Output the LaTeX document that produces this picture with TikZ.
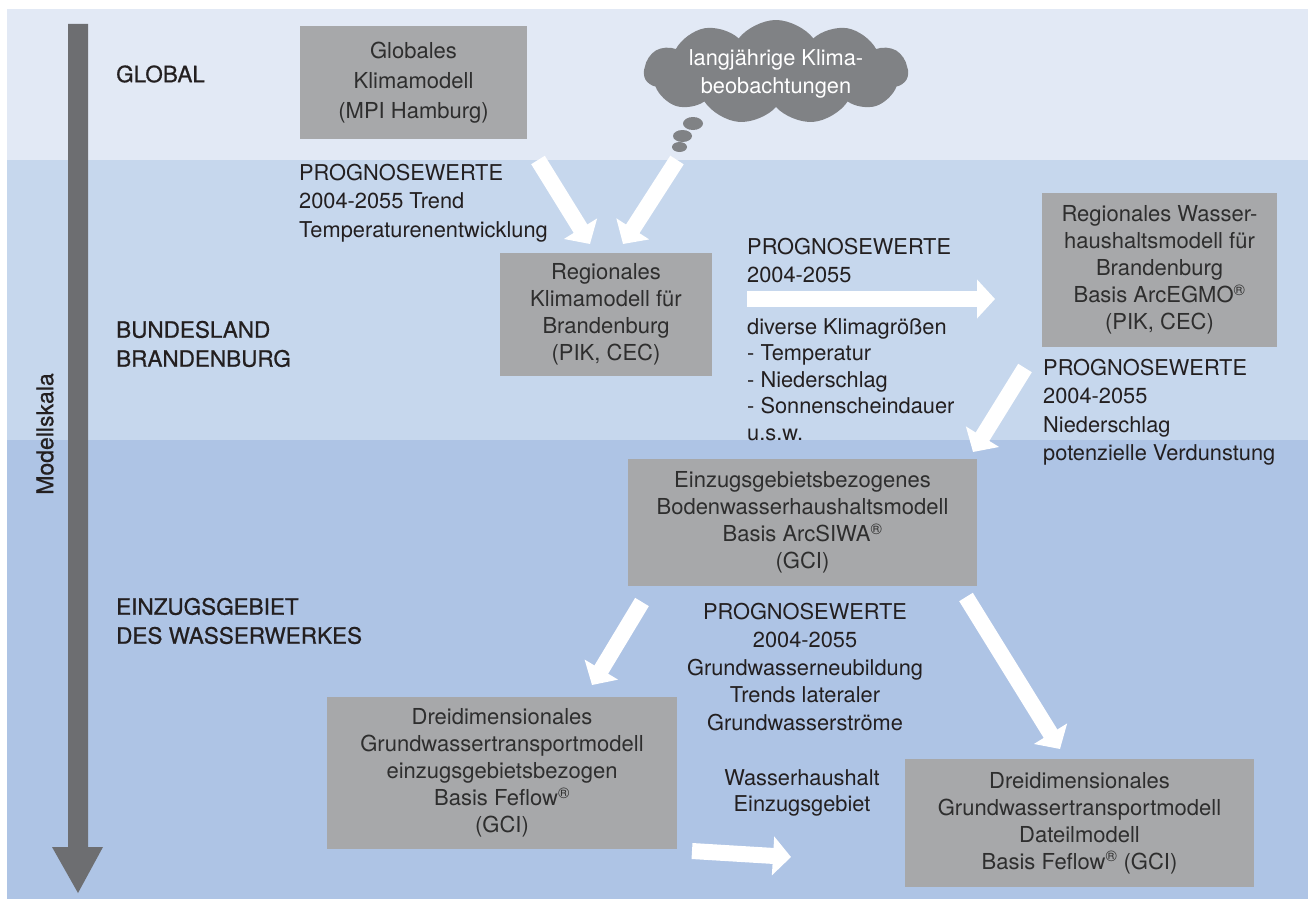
\documentclass[tikz,border=0pt]{standalone}
\usepackage{fontspec}
\setmainfont{TeX Gyre Heros}
\newfontfamily\levelfont[FakeBold=0.7]{TeX Gyre Heros}
\usetikzlibrary{shapes.symbols,arrows.meta}
\definecolor{bandtop}{HTML}{E2E9F5}
\definecolor{bandmid}{HTML}{C6D7ED}
\definecolor{bandlow}{HTML}{AEC4E5}
\definecolor{boxgray}{HTML}{A7A8AA}
\definecolor{cloudgray}{HTML}{808285}
\definecolor{axisgray}{HTML}{6D6E71}
\definecolor{textdark}{HTML}{231F20}
\definecolor{boxtext}{HTML}{2E2E2E}
\begin{document}
\begin{tikzpicture}[x=1pt, y=-1pt,
    modelbox/.style={fill=boxgray, text=boxtext, align=center, inner sep=0pt,
        font=\fontsize{22}{27}\selectfont},
    info/.style={text=textdark, inner sep=0pt, align=left, anchor=north west,
        font=\fontsize{21.8}{28.5}\selectfont},
    scalelabel/.style={text=textdark, inner sep=0pt, align=left, anchor=west,
        font=\levelfont\fontsize{22.5}{29}\selectfont},
    fat/.style={draw=white, line width=16pt, -{Triangle[length=18pt,width=38pt]}}]
    \useasboundingbox (0,0) rectangle (1313,899);
    % Hintergrund
    \fill[bandtop] (7,9) rectangle (1308,160);
    \fill[bandmid] (7,160) rectangle (1308,440);
    \fill[bandlow] (7,440) rectangle (1308,899);
    % Modellskala
    \fill[axisgray] (68,24) -- (88,24) -- (88,847) -- (103,847) -- (78,893)
        -- (52,847) -- (68,847) -- cycle;
    \node[text=textdark, rotate=90, inner sep=0pt, font=\levelfont\fontsize{23}{27}\selectfont] (skala) at (45,434) {Modellskala};
    \node[scalelabel] (global) at (116,74) {GLOBAL};
    \node[scalelabel] (land) at (116,344) {BUNDESLAND\\BRANDENBURG};
    \node[scalelabel] (gebiet) at (116,621) {EINZUGSGEBIET\\DES WASSERWERKES};
    % Modelle
    \node[modelbox, minimum width=227pt, minimum height=113pt,
        font=\fontsize{22}{30}\selectfont] (glob) at (413.5,82.5)
        {Globales\\Klimamodell\\(MPI Hamburg)};
    \node[cloud, cloud puffs=11, cloud puff arc=105, cloud ignores aspect, fill=cloudgray, inner sep=0pt,
        minimum width=264pt, minimum height=104pt] (beob) at (776,72) {};
    \node[text=white, inner sep=0pt, align=center,
        font=\fontsize{21.8}{28}\selectfont] (beobtext) at (776,74)
        {langjährige Klima-\\beobachtungen};
    \fill[cloudgray] (693,123.5) ellipse (10 and 6.5);
    \fill[cloudgray] (682.5,136) ellipse (9.5 and 6);
    \fill[cloudgray] (679.5,147) ellipse (7.5 and 5);
    \node[modelbox, minimum width=212pt, minimum height=123pt] (regklima) at (606,314)
        {Regionales\\Klimamodell für\\Brandenburg\\(PIK, CEC)};
    \node[modelbox, minimum width=235pt, minimum height=154pt] (regwasser) at (1159.5,270)
        {Regionales Wasser-\\haushaltsmodell für\\Brandenburg\\Basis ArcEGMO\textsuperscript{®}\\(PIK, CEC)};
    \node[modelbox, minimum width=349pt, minimum height=127pt] (boden) at (802.5,522.5)
        {Einzugsgebietsbezogenes\\Bodenwasserhaushaltsmodell\\Basis ArcSIWA\textsuperscript{®}\\(GCI)};
    \node[modelbox, minimum width=350pt, minimum height=152pt] (grundgebiet) at (502,773)
        {Dreidimensionales\\Grundwassertransportmodell\\einzugsgebietsbezogen\\Basis Feflow\textsuperscript{®}\\(GCI)};
    \node[modelbox, minimum width=349pt, minimum height=128pt] (grundteil) at (1079.5,823)
        {Dreidimensionales\\Grundwassertransportmodell\\Dateilmodell\\Basis Feflow\textsuperscript{®} (GCI)};
    % Prognosewerte
    \node[info] (progglob) at (299,164)
        {PROGNOSEWERTE\\2004-2055 Trend\\Temperaturenentwicklung};
    \node[info] (progreg) at (747,238) {PROGNOSEWERTE\\2004-2055};
    \node[info, font=\fontsize{21.8}{26.5}\selectfont] (groessen) at (747,318)
        {diverse Klimagrößen\\- Temperatur\\- Niederschlag\\- Sonnenscheindauer\\u.s.w.};
    \node[info] (progwasser) at (1043,359)
        {PROGNOSEWERTE\\2004-2055\\Niederschlag\\potenzielle Verdunstung};
    \node[info, align=center, anchor=north, font=\fontsize{21.8}{27.8}\selectfont] (progboden) at (805,603)
        {PROGNOSEWERTE\\2004-2055\\Grundwasserneubildung\\Trends lateraler\\Grundwasserströme};
    \node[info, align=center, anchor=north, font=\fontsize{21.8}{26}\selectfont] (haushalt) at (802,769)
        {Wasserhaushalt\\Einzugsgebiet};
    % Pfeile
    \coordinate (a1) at (538,160);  \coordinate (a2) at (590,244);
    \coordinate (b1) at (677,160);  \coordinate (b2) at (623,244);
    \coordinate (c1) at (747,299);  \coordinate (c2) at (995,299);
    \coordinate (d1) at (1025,368); \coordinate (d2) at (973,452);
    \coordinate (e1) at (642,602);  \coordinate (e2) at (592,685);
    \coordinate (f1) at (966,597);  \coordinate (f2) at (1060,749);
    \coordinate (g1) at (692,851);  \coordinate (g2) at (791,857);
    \draw[fat] (a1) -- (a2);
    \draw[fat] (b1) -- (b2);
    \draw[fat] (c1) -- (c2);
    \draw[fat] (d1) -- (d2);
    \draw[fat] (e1) -- (e2);
    \draw[fat] (f1) -- (f2);
    \draw[fat] (g1) -- (g2);
\end{tikzpicture}
\end{document}
